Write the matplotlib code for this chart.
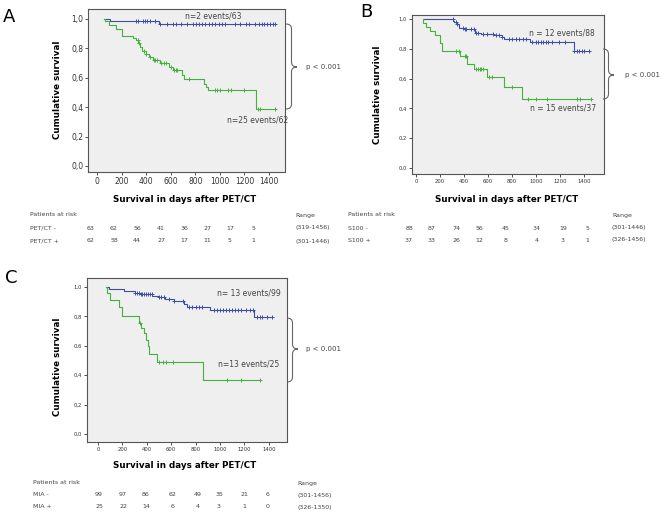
import numpy as np
import matplotlib.pyplot as plt
from matplotlib.path import Path
from matplotlib.patches import PathPatch

# ---- data ----
# panel A: PET/CT
a_neg_t = [55, 110, 505]
a_neg_s = [1.0, 0.984, 0.968]
a_neg_end = 1450
a_neg_cens = [320, 334, 374, 388, 409, 428, 469, 515, 571, 617, 647, 680, 734, 783, 802, 829,
              856, 883, 910, 937, 964, 991, 1018, 1045, 1120, 1161, 1215, 1240, 1283, 1320,
              1340, 1360, 1385, 1410, 1435, 1450]
a_pos_t = [55, 62, 100, 155, 200, 290, 320, 335, 350, 370, 395, 420, 455, 510, 590, 615,
           695, 710, 870, 890, 905, 1290]
a_pos_s = [1.0, 0.985, 0.96, 0.93, 0.885, 0.87, 0.855, 0.835, 0.81, 0.785, 0.765, 0.74,
           0.72, 0.70, 0.675, 0.652, 0.616, 0.59, 0.56, 0.535, 0.515, 0.385]
a_pos_end = 1450
a_pos_cens = [330, 345, 380, 400, 430, 460, 475, 490, 520, 545, 560, 600, 625, 640, 655,
              750, 960, 980, 1000, 1070, 1090, 1200, 1310, 1330, 1450]

# panel B: S100
b_neg_t = [55, 311, 320, 340, 360, 400, 492, 540, 644, 714, 730, 950, 1319]
b_neg_s = [1.0, 0.988, 0.977, 0.966, 0.943, 0.93, 0.908, 0.899, 0.89, 0.877, 0.863, 0.846, 0.788]
b_neg_end = 1450
b_neg_cens = [310, 330, 345, 390, 405, 420, 455, 480, 500, 520, 560, 590, 640, 665, 690, 720,
              775, 800, 830, 860, 890, 920, 970, 1000, 1020, 1040, 1060, 1080, 1100, 1130,
              1190, 1240, 1320, 1340, 1360, 1380, 1400, 1440]
b_pos_t = [55, 60, 80, 120, 160, 200, 220, 365, 425, 480, 595, 730, 885]
b_pos_s = [1.0, 0.973, 0.946, 0.919, 0.892, 0.838, 0.784, 0.754, 0.698, 0.664, 0.613, 0.541, 0.463]
b_pos_end = 1460
b_pos_cens = [330, 360, 410, 420, 500, 515, 530, 545, 560, 610, 630, 800, 930, 1000, 1090,
              1340, 1370, 1460]

# panel C: MIA
c_neg_t = [65, 87, 210, 306, 347, 442, 497, 552, 620, 702, 729, 920, 1280]
c_neg_s = [1.0, 0.985, 0.972, 0.961, 0.952, 0.94, 0.93, 0.916, 0.902, 0.884, 0.862, 0.844, 0.794]
c_neg_end = 1430
c_neg_cens = [306, 320, 333, 350, 365, 380, 395, 410, 425, 440, 500, 520, 545, 580, 620, 700,
              745, 770, 800, 825, 850, 950, 975, 1000, 1025, 1050, 1075, 1100, 1125, 1150,
              1175, 1210, 1250, 1275, 1305, 1325, 1345, 1390, 1425]
c_pos_t = [65, 78, 101, 169, 196, 333, 352, 374, 390, 407, 420, 483, 865]
c_pos_s = [1.0, 0.96, 0.91, 0.862, 0.803, 0.757, 0.72, 0.685, 0.64, 0.60, 0.544, 0.49, 0.368]
c_pos_end = 1330
c_pos_cens = [346, 497, 530, 560, 615, 1056, 1170, 1330]

x_ticks = [0, 200, 400, 600, 800, 1000, 1200, 1400]
y_ticks = [0.0, 0.2, 0.4, 0.6, 0.8, 1.0]
y_ticklabels = ['0,0', '0,2', '0,4', '0,6', '0,8', '1,0']

a_rows = ['PET/CT -', 'PET/CT +']
a_risk = [[63, 62, 56, 41, 36, 27, 17, 5], [62, 58, 44, 27, 17, 11, 5, 1]]
a_range = ['(319-1456)', '(301-1446)']
b_rows = ['S100 -', 'S100 +']
b_risk = [[88, 87, 74, 56, 45, 34, 19, 5], [37, 33, 26, 12, 8, 4, 3, 1]]
b_range = ['(301-1446)', '(326-1456)']
c_rows = ['MIA -', 'MIA +']
c_risk = [[99, 97, 86, 62, 49, 35, 21, 6], [25, 22, 14, 6, 4, 3, 1, 0]]
c_range = ['(301-1456)', '(326-1350)']

BLUE = '#3c4ea6'
GREEN = '#47b03c'
W, H = 661, 514

fig = plt.figure(figsize=(W / 100, H / 100), dpi=100)


def px_axes(l, t, r, b):
    return fig.add_axes([l / W, 1 - b / H, (r - l) / W, (b - t) / H])


def km(ax, t, s, end, cens, color):
    xs = list(t) + [end]
    ys = list(s) + [s[-1]]
    ax.step(xs, ys, where='post', color=color, lw=0.8)
    idx = np.searchsorted(t, cens, side='right') - 1
    cy = np.array(s)[idx]
    ax.plot(cens, cy, '+', color=color, ms=3, mew=0.7)


def setup(ax, xlim, ylim, fs):
    ax.set_facecolor('#efefef')
    ax.set_xlim(*xlim)
    ax.set_ylim(*ylim)
    ax.set_xticks(x_ticks)
    ax.set_yticks(y_ticks)
    ax.set_yticklabels(y_ticklabels)
    ax.tick_params(labelsize=fs, length=2, width=0.6, pad=1.5, colors='#333333')
    for sp in ax.spines.values():
        sp.set_color('#555555')
        sp.set_linewidth(0.8)


axA = px_axes(88, 9, 285, 172)
setup(axA, (-73, 1530), (-0.041, 1.068), 5.5)
km(axA, a_neg_t, a_neg_s, a_neg_end, a_neg_cens, BLUE)
km(axA, a_pos_t, a_pos_s, a_pos_end, a_pos_cens, GREEN)

axB = px_axes(412, 15, 604, 174)
setup(axB, (-33, 1567), (-0.04, 1.027), 3.8)
km(axB, b_neg_t, b_neg_s, b_neg_end, b_neg_cens, BLUE)
km(axB, b_pos_t, b_pos_s, b_pos_end, b_pos_cens, GREEN)

axC = px_axes(87, 278, 287, 442)
setup(axC, (-90, 1550), (-0.054, 1.061), 3.8)
km(axC, c_neg_t, c_neg_s, c_neg_end, c_neg_cens, BLUE)
km(axC, c_pos_t, c_pos_s, c_pos_end, c_pos_cens, GREEN)

# overlay in pixel coordinates for labels, braces and tables
ov = fig.add_axes([0, 0, 1, 1])
ov.set_xlim(0, W)
ov.set_ylim(H, 0)
ov.axis('off')


def brace(x0, ytop, ybot, xtip, ymid):
    xm = (x0 + xtip) / 2
    r = 5
    verts = [(x0, ytop), (xm, ytop), (xm, ytop + r),
             (xm, ymid - r), (xm, ymid), (xtip, ymid),
             (xm, ymid), (xm, ymid + r),
             (xm, ybot - r), (xm, ybot), (x0, ybot)]
    codes = [Path.MOVETO, Path.CURVE3, Path.CURVE3,
             Path.LINETO, Path.CURVE3, Path.CURVE3,
             Path.CURVE3, Path.CURVE3,
             Path.LINETO, Path.CURVE3, Path.CURVE3]
    ov.add_patch(PathPatch(Path(verts, codes), fill=False, color='#666666', lw=0.8))


brace(286, 24, 109, 297, 67)
ov.text(306, 67, 'p < 0.001', fontsize=5, color='#444444', va='center')
brace(603, 49, 99, 614, 75)
ov.text(625, 75, 'p < 0.001', fontsize=5, color='#444444', va='center')
brace(287, 318, 382, 298, 349)
ov.text(306, 349, 'p < 0.001', fontsize=5, color='#444444', va='center')

ov.text(213, 16, 'n=2 events/63', fontsize=5.5, color='#444444', ha='center', va='center')
ov.text(258, 120, 'n=25 events/62', fontsize=5.5, color='#444444', ha='center', va='center')
ov.text(562, 33, 'n = 12 events/88', fontsize=5.5, color='#444444', ha='center', va='center')
ov.text(563, 108, 'n = 15 events/37', fontsize=5.5, color='#444444', ha='center', va='center')
ov.text(249, 293, 'n= 13 events/99', fontsize=5.5, color='#444444', ha='center', va='center')
ov.text(249, 364, 'n=13 events/25', fontsize=5.5, color='#444444', ha='center', va='center')

for x, y, s in [(9, 17, 'A'), (366, 12, 'B'), (11, 278, 'C')]:
    ov.text(x, y, s, fontsize=13, ha='center', va='center')

for x, y in [(185, 200), (507, 200), (185, 466)]:
    ov.text(x, y, 'Survival in days after PET/CT', fontsize=6.3, fontweight='bold',
            ha='center', va='center')
for x, y in [(58, 90), (377, 95), (58, 367)]:
    ov.text(x, y, 'Cumulative survival', fontsize=6.3, fontweight='bold', rotation=90,
            ha='center', va='center')


def table(xlab, cols, xrange_, ys, rows, risk, ranges):
    ov.text(xlab, ys[0], 'Patients at risk', fontsize=4.5, color='#444444', va='center')
    ov.text(xrange_, ys[0], 'Range', fontsize=4.5, color='#444444', va='center')
    for i in range(2):
        ov.text(xlab, ys[i + 1], rows[i], fontsize=4.5, color='#444444', va='center')
        for x, v in zip(cols, risk[i]):
            ov.text(x, ys[i + 1], str(v), fontsize=4.5, color='#444444', ha='center', va='center')
        ov.text(xrange_, ys[i + 1], ranges[i], fontsize=4.5, color='#444444', va='center')


table(30, [91, 114, 137, 161, 184, 207, 230, 253], 295, [215, 228, 241], a_rows, a_risk, a_range)
table(348, [409, 432, 456, 479, 506, 537, 563, 587], 612, [215, 228, 240], b_rows, b_risk, b_range)
table(33, [99, 123, 146, 173, 198, 219, 244, 268], 297, [483, 495, 507], c_rows, c_risk, c_range)

fig.savefig('out.png', dpi=100)
